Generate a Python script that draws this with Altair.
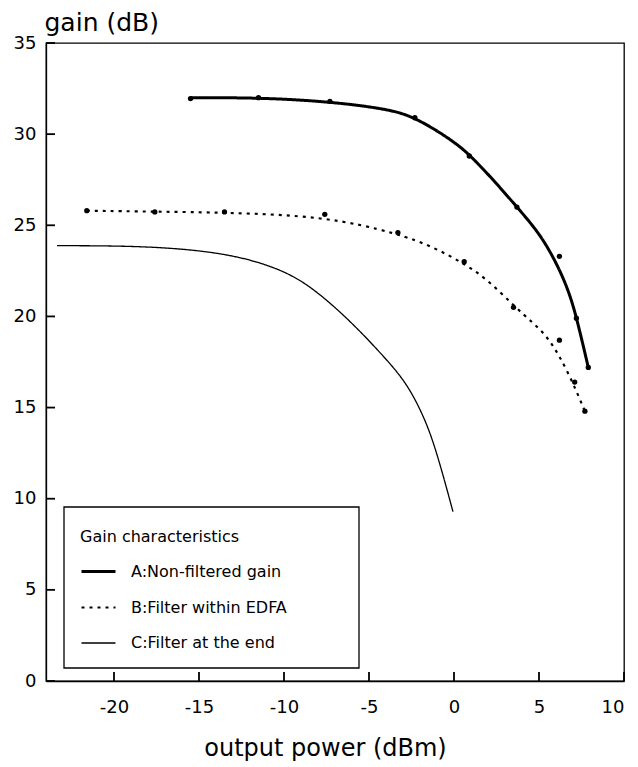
import altair as alt
import pandas as pd

# ---- data ----
series_names = ["A:Non-filtered gain", "B:Filter within EDFA", "C:Filter at the end"]

a_line_x = [-15.5, -11.5, -7.5, -4.0, -2.3, 0.0, 1.0, 2.5, 3.7, 5.0, 6.0, 6.8, 7.3, 7.9]
a_line_y = [32.0, 32.0, 31.8, 31.4, 30.95, 29.6, 28.8, 27.3, 26.0, 24.6, 23.0, 21.3, 19.6, 17.2]
a_pts_x = [-15.5, -11.5, -7.3, -2.3, 0.9, 3.7, 6.2, 7.2, 7.9]
a_pts_y = [31.95, 32.0, 31.8, 30.9, 28.8, 26.0, 23.3, 19.9, 17.2]

b_line_x = [-21.6, -17.6, -13.5, -7.6, -3.3, -1.2, 0.6, 2.0, 3.5, 4.7, 5.6, 6.7, 7.7]
b_line_y = [25.8, 25.75, 25.7, 25.5, 24.55, 23.8, 22.9, 22.0, 20.6, 19.6, 18.8, 17.0, 14.8]
b_pts_x = [-21.6, -17.6, -13.5, -7.6, -3.3, 0.6, 3.5, 6.2, 7.1, 7.7]
b_pts_y = [25.8, 25.73, 25.73, 25.6, 24.6, 23.0, 20.5, 18.7, 16.4, 14.8]

c_line_x = [-23.35, -20.8, -17.8, -14.9, -12.5, -10.4, -8.6, -6.25, -4.3, -2.9, -1.95, -1.15, -0.06]
c_line_y = [23.88, 23.88, 23.82, 23.62, 23.25, 22.65, 21.8, 19.9, 17.98, 16.5, 14.87, 13.04, 9.29]

x_ticks = [-20, -15, -10, -5, 0, 5, 10]
y_ticks = [0, 5, 10, 15, 20, 25, 30, 35]

# ---- tables ----
lines = pd.concat([
    pd.DataFrame({"x": a_line_x, "y": a_line_y, "series": series_names[0]}),
    pd.DataFrame({"x": b_line_x, "y": b_line_y, "series": series_names[1]}),
    pd.DataFrame({"x": c_line_x, "y": c_line_y, "series": series_names[2]}),
], ignore_index=True)
points = pd.concat([
    pd.DataFrame({"x": a_pts_x, "y": a_pts_y, "series": series_names[0]}),
    pd.DataFrame({"x": b_pts_x, "y": b_pts_y, "series": series_names[1]}),
], ignore_index=True)
xt = pd.DataFrame({"tx": x_ticks})
yt = pd.DataFrame({"ty": y_ticks})

W, H = 578, 638
FONT = "DejaVu Sans"
X0, X1, Y0, Y1 = -24, 10, 0, 35
TICK_PX = 9
XTICK_LEN = TICK_PX * (X1 - X0) / W   # tick length in x units
YTICK_LEN = TICK_PX * (Y1 - Y0) / H   # tick length in y units

# legend frame (pixels inside the plot area)
LEG_X, LEG_Y, LEG_W, LEG_H = 18, 464, 295, 161

xscale = alt.Scale(domain=[X0, X1], nice=False, zero=False)
yscale = alt.Scale(domain=[Y0, Y1], nice=False, zero=False)

legend = alt.Legend(
    orient="none", legendX=LEG_X, legendY=LEG_Y,
    title=["", "Gain characteristics"], titleLineHeight=6,
    titleFontWeight="normal", titleFontSize=16,
    titleFont=FONT, titleColor="black", titlePadding=8,
    labelFont=FONT, labelFontSize=16, labelColor="black", labelOffset=14,
    labelLimit=400, padding=16,
    symbolType="stroke", symbolSize=1156, rowPadding=9, symbolStrokeColor="black",
)

line_layer = alt.Chart(lines).mark_line(interpolate="basis").encode(
    x=alt.X("x:Q", scale=xscale,
            axis=alt.Axis(values=x_ticks, ticks=False, grid=False, title="output power (dBm)",
                          labelExpr="'' + datum.value",
                          labelFontSize=18, labelPadding=17, labelFont=FONT,
                          titleFont=FONT, titleFontSize=24, titleFontWeight="normal",
                          titleBaseline="middle", titleY=67, titleX=279,
                          domainColor="black", labelColor="black", titleColor="black")),
    y=alt.Y("y:Q", scale=yscale,
            axis=alt.Axis(values=y_ticks, ticks=False, grid=False, title="gain (dB)",
                          labelFontSize=18, labelPadding=10, labelFont=FONT,
                          titleFont=FONT, titleFontSize=25, titleFontWeight="normal",
                          titleAngle=0, titleAlign="left", titleBaseline="middle",
                          titleX=-2, titleY=-21,
                          domainColor="black", labelColor="black", titleColor="black")),
    color=alt.Color("series:N", scale=alt.Scale(domain=series_names, range=["black", "black", "black"]),
                    legend=legend),
    strokeDash=alt.StrokeDash("series:N", scale=alt.Scale(domain=series_names, range=[[1, 0], [3, 5], [1, 0]]),
                              legend=legend),
    strokeWidth=alt.StrokeWidth("series:N", scale=alt.Scale(domain=series_names, range=[3, 1.3, 1]),
                                legend=legend),
)

point_layer = alt.Chart(points).mark_circle(color="black", opacity=1, size=28).encode(
    x=alt.X("x:Q", scale=xscale),
    y=alt.Y("y:Q", scale=yscale),
)

# frame drawn behind the legend entries
legend_box = alt.Chart(pd.DataFrame({"box": [series_names[0]]})).mark_rect(
    fill="white", stroke="black", strokeWidth=1.3
).encode(
    x=alt.value(LEG_X), x2=alt.value(LEG_X + LEG_W),
    y=alt.value(LEG_Y), y2=alt.value(LEG_Y + LEG_H),
)

# inward axis ticks
xtick_layer = alt.Chart(xt).mark_rule(color="black", strokeWidth=1.8, opacity=1).encode(
    x=alt.X("tx:Q", scale=xscale),
    y=alt.datum(Y0, scale=yscale),
    y2=alt.datum(Y0 + YTICK_LEN),
)
ytick_layer = alt.Chart(yt).mark_rule(color="black", strokeWidth=1.8, opacity=1).encode(
    y=alt.Y("ty:Q", scale=yscale),
    x=alt.datum(X0, scale=xscale),
    x2=alt.datum(X0 + XTICK_LEN),
)

chart = alt.layer(legend_box, line_layer, point_layer, xtick_layer, ytick_layer).properties(
    width=W, height=H,
    padding={"left": 5, "top": 2, "right": 5, "bottom": 5},
).configure_view(stroke="black", strokeWidth=1.3).configure_axis(domainWidth=1.3)

chart.save("out.html", embed_options={"renderer": "svg", "actions": False})
